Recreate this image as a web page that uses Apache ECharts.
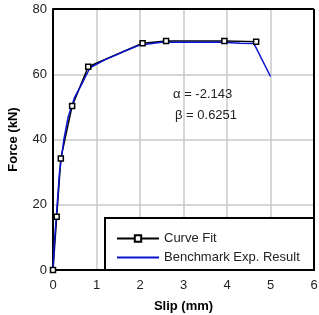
<!DOCTYPE html>
<html>
<head>
<meta charset="utf-8">
<script src="https://cdn.jsdelivr.net/npm/echarts@6/dist/echarts.min.js"></script>
<style>
  html, body { margin: 0; padding: 0; background: #fff; }
  #chart { width: 319px; height: 315px; }
</style>
</head>
<body>
<div id="chart"></div>
<script>
// curve fit points (slip mm, force kN)
const fitSlip = [0, 0.085, 0.18, 0.44, 0.81, 2.06, 2.6, 3.94, 4.67]
const fitForce = [0, 16.3, 34.2, 50.3, 62.3, 69.5, 70.2, 70.2, 70]
// benchmark experiment
const expSlip = [0, 0.03, 0.08, 0.15, 0.25, 0.35, 0.5, 0.7, 0.85, 1.2, 1.6, 2.0, 2.5, 3.0, 3.9, 4.3, 4.62, 5.0]
const expForce = [0, 8, 17, 30, 40, 47, 53, 58, 62, 64.5, 66.8, 69, 69.8, 69.8, 69.8, 69.5, 69.4, 59.3]
const xTicks = [0, 1, 2, 3, 4, 5, 6]
const yTicks = [0, 20, 40, 60, 80]
const seriesNames = ['Curve Fit', 'Benchmark Exp. Result']

const chart = echarts.init(document.getElementById('chart'))
const font = 'Liberation Sans, Arial, sans-serif'

chart.setOption({
  animation: false,
  textStyle: { fontFamily: font },
  grid: { left: 53, right: 5, top: 9, bottom: 45, outerBoundsMode: 'none' },
  xAxis: {
    type: 'value',
    min: xTicks[0],
    max: xTicks[xTicks.length - 1],
    interval: 1,
    name: 'Slip (mm)',
    nameLocation: 'middle',
    nameGap: 30,
    nameTextStyle: { fontSize: 13, fontWeight: 'bold', color: '#000', fontFamily: font },
    axisLine: { show: true, onZero: false, lineStyle: { color: '#000', width: 2 } },
    axisTick: { show: false },
    axisLabel: { fontSize: 13, color: '#222', margin: 9, fontFamily: font },
    splitLine: { show: true, lineStyle: { color: '#c8c8c8', width: 1.5 } }
  },
  yAxis: {
    type: 'value',
    min: yTicks[0],
    max: yTicks[yTicks.length - 1],
    interval: 20,
    name: 'Force (kN)',
    nameLocation: 'middle',
    nameGap: 33,
    nameTextStyle: { fontSize: 13, fontWeight: 'bold', color: '#000', fontFamily: font },
    axisLine: { show: true, onZero: false, lineStyle: { color: '#000', width: 2 } },
    axisTick: { show: false },
    axisLabel: { fontSize: 13, color: '#222', margin: 6, fontFamily: font },
    splitLine: { show: true, lineStyle: { color: '#c8c8c8', width: 1.5 } }
  },
  graphic: [
    // right / top frame
    { type: 'line', shape: { x1: 53, y1: 9, x2: 314, y2: 9 }, style: { stroke: '#000', lineWidth: 2 }, z: 10 },
    { type: 'line', shape: { x1: 314, y1: 9, x2: 314, y2: 270 }, style: { stroke: '#000', lineWidth: 2 }, z: 10 },
    // legend box
    { type: 'rect', shape: { x: 105, y: 218, width: 209, height: 52 }, style: { fill: '#fff', stroke: '#000', lineWidth: 2 }, z: 3 },
    { type: 'text', left: 173, top: 88, style: { text: 'α = -2.143', fontSize: 13, fill: '#222', fontFamily: font }, z: 10 },
    { type: 'text', left: 175, top: 109, style: { text: 'β = 0.6251', fontSize: 13, fill: '#222', fontFamily: font }, z: 10 }
  ],
  legend: {
    orient: 'vertical',
    left: 111,
    top: 227,
    itemWidth: 42,
    itemHeight: 8,
    itemGap: 6,
    z: 5,
    textStyle: { fontSize: 13, color: '#222', fontFamily: font },
    data: [
      { name: seriesNames[0] },
      { name: seriesNames[1], itemStyle: { opacity: 0 } }
    ]
  },
  series: [
    {
      name: seriesNames[0],
      type: 'line',
      data: fitSlip.map((x, i) => [x, fitForce[i]]),
      symbol: 'rect',
      symbolSize: 5,
      showAllSymbol: true,
      lineStyle: { color: '#000', width: 1.5 },
      itemStyle: { color: '#fff', borderColor: '#000', borderWidth: 1.5 }
    },
    {
      name: seriesNames[1],
      type: 'line',
      data: expSlip.map((x, i) => [x, expForce[i]]),
      symbol: 'none',
      lineStyle: { color: '#0a14d0', width: 1.5 },
      itemStyle: { color: '#0a14d0' }
    }
  ]
})
</script>
</body>
</html>
